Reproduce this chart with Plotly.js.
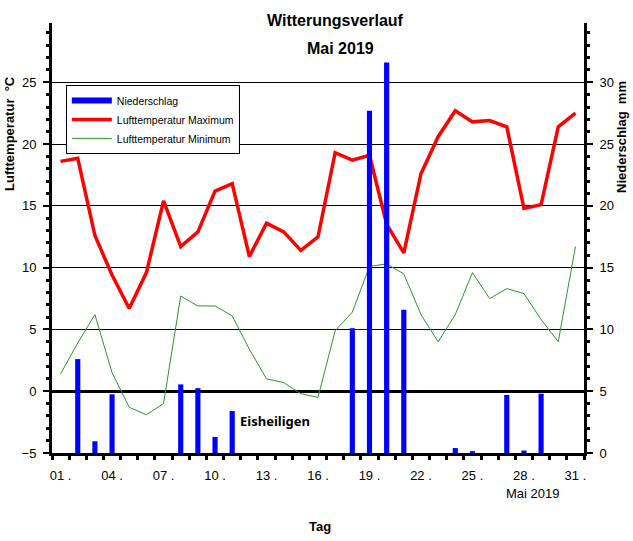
<!DOCTYPE html>
<html>
<head>
<meta charset="utf-8">
<script src="https://cdn.plot.ly/plotly-3.0.1.min.js"></script>
<style>html,body{margin:0;padding:0;background:#fff;}#chart{width:633px;height:541px;}</style>
</head>
<body>
<div id="chart"></div>
<script>
const days = [1,2,3,4,5,6,7,8,9,10,11,12,13,14,15,16,17,18,19,20,21,22,23,24,25,26,27,28,29,30,31];
const tempMax = [18.6,18.85,12.6,9.4,6.7,9.6,15.4,11.7,12.9,16.2,16.8,10.9,13.6,12.9,11.4,12.5,19.3,18.7,19.1,13.5,11.2,17.6,20.6,22.7,21.8,21.9,21.4,14.8,15.1,21.4,22.5];
const tempMin = [1.4,3.9,6.2,1.5,-1.3,-1.9,-1.0,7.7,6.9,6.9,6.1,3.4,1.0,0.7,-0.2,-0.5,4.9,6.4,10.1,10.3,9.5,6.2,4.0,6.2,9.6,7.5,8.3,7.9,5.8,4.0,11.7];
const precip = [0,7.6,0.95,4.75,0,0,0,5.55,5.25,1.3,3.4,0,0,0,0,0,0,10.1,27.7,31.6,11.6,0,0,0.4,0.15,0,4.7,0.2,4.8,0,0];
const tickDays = [1,4,7,10,13,16,19,22,25,28,31];
const tickLabels = ["01 .","04 .","07 .","10 .","13 .","16 .","19 .","22 .","25 .","28 .","31 ."];

const F = "Liberation Sans, Arial, sans-serif";

const traces = [
  {type:'scatter', mode:'lines', x:[null], y:[null], name:'Niederschlag',
   line:{color:'#0000ff', width:6}, xaxis:'x', yaxis:'y', hoverinfo:'skip'},
  {type:'scatter', mode:'lines', x:days, y:tempMax, name:'Lufttemperatur Maximum',
   line:{color:'#ff0000', width:3.5}, xaxis:'x', yaxis:'y'},
  {type:'scatter', mode:'lines', x:days, y:tempMin, name:'Lufttemperatur Minimum',
   line:{color:'#2a962a', width:1}, xaxis:'x', yaxis:'y'},
  {type:'bar', x:days, y:precip, name:'Niederschlag', width:0.3, showlegend:false,
   marker:{color:'#0000ff', line:{width:0}}, xaxis:'x', yaxis:'y2'}
];

const layout = {
  width:633, height:541,
  margin:{l:52, r:49, t:23, b:88},
  paper_bgcolor:'#fff', plot_bgcolor:'#fff',
  font:{family:F, size:13, color:'#000'},
  showlegend:true,
  legend:{x:0.026, y:0.856, xanchor:'left', yanchor:'top', bgcolor:'#fff',
          bordercolor:'#000', borderwidth:1, font:{family:F, size:10.5, color:'#000'},
          traceorder:'normal', itemwidth:40, entrywidth:210, entrywidthmode:'pixels'},
  xaxis:{range:[0.5,31.5], showgrid:false, zeroline:false, showline:true, linewidth:3, linecolor:'#000',
         tickmode:'array', tickvals:tickDays, ticktext:tickLabels, ticks:'', ticklabelstandoff:8,
         tickfont:{family:F, size:13, color:'#000'},
         minor:{tickmode:'linear', tick0:0.5, dtick:1, ticks:'outside', ticklen:4, tickwidth:3, tickcolor:'#000', showgrid:false},
         fixedrange:true},
  yaxis:{range:[-5,29.8], dtick:5, tick0:0, showgrid:true, gridcolor:'#000', gridwidth:1,
         zeroline:true, zerolinecolor:'#000', zerolinewidth:3,
         showline:true, linewidth:3, linecolor:'#000', ticks:'outside', ticklen:6, tickwidth:2, tickcolor:'#000',
         ticklabelstandoff:4,
         minor:{dtick:1, ticks:'outside', ticklen:3, tickwidth:3, tickcolor:'#000', showgrid:false},
         tickfont:{family:F, size:13, color:'#000'}, fixedrange:true},
  yaxis2:{overlaying:'y', side:'right', range:[0,34.8], dtick:5, showgrid:false, zeroline:false,
         showline:true, linewidth:3, linecolor:'#000', ticks:'outside', ticklen:6, tickwidth:2, tickcolor:'#000',
         ticklabelstandoff:4,
         minor:{dtick:1, ticks:'outside', ticklen:3, tickwidth:3, tickcolor:'#000', showgrid:false},
         tickfont:{family:F, size:13, color:'#000'}, fixedrange:true},
  annotations:[
    {text:'<b>Witterungsverlauf</b>', xref:'paper', yref:'paper', x:(335-52)/532, y:(453-20)/430, xanchor:'center', yanchor:'middle', showarrow:false, font:{family:F, size:16, color:'#000'}},
    {text:'<b>Mai 2019</b>', xref:'paper', yref:'paper', x:(340-52)/532, y:(453-48)/430, xanchor:'center', yanchor:'middle', showarrow:false, font:{family:F, size:16, color:'#000'}},
    {text:'<b>Lufttemperatur  °C</b>', xref:'paper', yref:'paper', x:(10-52)/532, y:(453-134)/430, xanchor:'center', yanchor:'middle', textangle:-90, showarrow:false, font:{family:F, size:13, color:'#000'}},
    {text:'<b>Niederschlag  mm</b>', xref:'paper', yref:'paper', x:(621-52)/532, y:(453-137)/430, xanchor:'center', yanchor:'middle', textangle:-90, showarrow:false, font:{family:F, size:13, color:'#000'}},
    {text:'<b>Tag</b>', xref:'paper', yref:'paper', x:(320-52)/532, y:(453-526)/430, xanchor:'center', yanchor:'middle', showarrow:false, font:{family:F, size:13, color:'#000'}},
    {text:'Mai 2019', xref:'paper', yref:'paper', x:(532-52)/532, y:(453-493)/430, xanchor:'center', yanchor:'middle', showarrow:false, font:{family:F, size:13, color:'#000'}},
    {text:'<b>Eisheiligen</b>', xref:'x', yref:'y', x:13.5, y:-2.4, xanchor:'center', yanchor:'middle', showarrow:false, font:{family:'Noto Sans, sans-serif', size:13, color:'#000'}}
  ]
};

Plotly.newPlot('chart', traces, layout, {displayModeBar:false, staticPlot:true});
</script>
</body>
</html>
